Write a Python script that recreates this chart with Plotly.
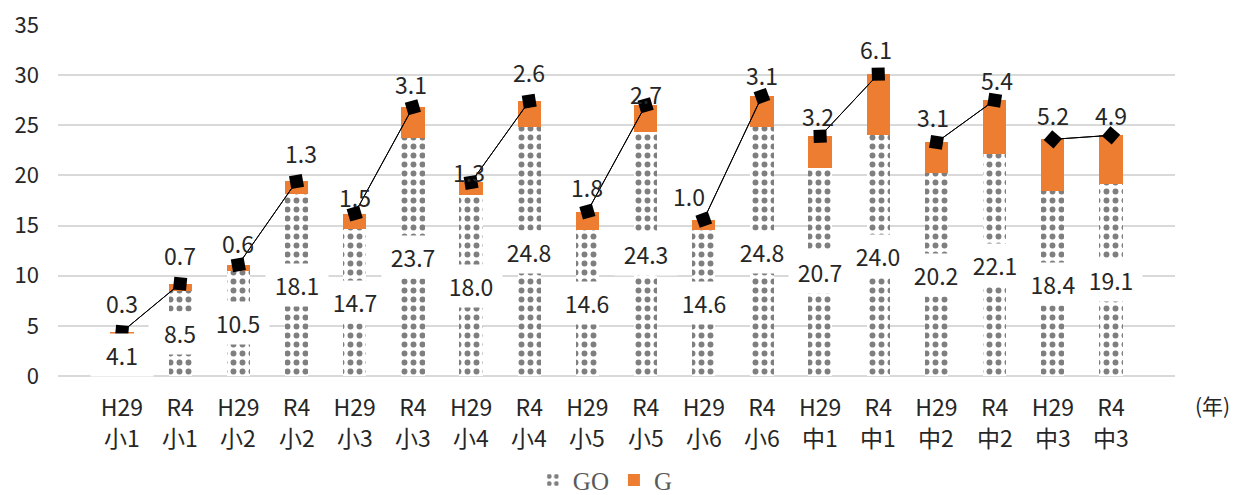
import plotly.graph_objects as go

# 調査年と学年
years = ["H29", "R4"] * 9
grades = ["小1", "小1", "小2", "小2", "小3", "小3", "小4", "小4", "小5",
          "小5", "小6", "小6", "中1", "中1", "中2", "中2", "中3", "中3"]
go_values = [4.1, 8.5, 10.5, 18.1, 14.7, 23.7, 18.0, 24.8, 14.6,
             24.3, 14.6, 24.8, 20.7, 24.0, 20.2, 22.1, 18.4, 19.1]
g_values = [0.3, 0.7, 0.6, 1.3, 1.5, 3.1, 1.3, 2.6, 1.8,
            2.7, 1.0, 3.1, 3.2, 6.1, 3.1, 5.4, 5.2, 4.9]
y_ticks = [0, 5, 10, 15, 20, 25, 30, 35]

categories = [f"{y} {g}" for y, g in zip(years, grades)]
totals = [a + b for a, b in zip(go_values, g_values)]

# G ラベルの持ち上げ量・横ずれ (px)
g_label_lift = [29, 29, 22, 28, 17, 23, 10, 29, 25, 11, 24, 21, 20, 25, 25, 20, 24, 20]
g_label_dx = [0, 0, 0, 4, 0, -2, -2, 0, 0, 0, -15, 0, -2, -2, -3, 2, 0, 0]

ORANGE = "#ED7D31"
TEXT = "#262626"
FONT = "Noto Sans CJK JP"

fig = go.Figure()

fig.add_trace(go.Bar(
    name="GO", x=categories, y=go_values, width=0.4,
    marker=dict(color="white", line=dict(width=0),
                pattern=dict(shape=".", fgcolor="black", bgcolor="white",
                             size=9, solidity=0.34)),
))
fig.add_trace(go.Bar(
    name="G", x=categories, y=g_values, width=0.4,
    marker=dict(color=ORANGE, line=dict(width=0)),
))

# H29 と R4 の合計を結ぶ線（往復させて両端のマーカーを線の向きに回転）
for i in range(0, len(categories), 2):
    xs = [categories[i], categories[i + 1], categories[i]]
    ys = [totals[i], totals[i + 1], totals[i]]
    fig.add_trace(go.Scatter(
        x=xs, y=ys, mode="lines+markers",
        line=dict(color="black", width=1),
        marker=dict(symbol="square", size=13, color="black",
                    angleref="previous", angle=45),
        showlegend=False, hoverinfo="skip",
    ))

annotations = []
for i, cat in enumerate(categories):
    annotations.append(dict(
        x=cat, y=go_values[i] / 2, text=f"{go_values[i]:.1f}", showarrow=False,
        bgcolor="white", width=60, height=40, font=dict(family=FONT, size=23, color=TEXT),
    ))
    annotations.append(dict(
        x=cat, y=totals[i], text=f"{g_values[i]:.1f}", showarrow=False,
        yshift=g_label_lift[i], xshift=g_label_dx[i],
        font=dict(family=FONT, size=23, color=TEXT),
    ))
    # 軸ラベル2行目（学年）
    annotations.append(dict(
        x=cat, y=0, yref="paper", yanchor="middle", yshift=-61, text=grades[i],
        showarrow=False, font=dict(family=FONT, size=23, color=TEXT),
    ))
annotations.append(dict(
    xref="paper", yref="paper", x=1.0, y=-0.083, xanchor="center", yanchor="middle",
    xshift=37, text="(年)", showarrow=False, font=dict(family=FONT, size=21, color=TEXT),
))

fig.update_layout(
    width=1233, height=495, barmode="stack", bargap=0.6,
    margin=dict(l=58, r=58, t=25, b=119, autoexpand=False),
    paper_bgcolor="white", plot_bgcolor="white",
    font=dict(family=FONT, color=TEXT),
    showlegend=True,
    legend=dict(orientation="h", x=0.49, xanchor="center", y=-0.297, yanchor="middle",
                font=dict(family="Liberation Serif", size=25, color="#595959"),
                itemwidth=30, traceorder="normal"),
    annotations=annotations,
    xaxis=dict(type="category", tickvals=categories, ticktext=years,
               tickfont=dict(family=FONT, size=23, color=TEXT),
               showline=False, ticks="", ticklabelstandoff=16, automargin=False),
    yaxis=dict(range=[0, 35], tickvals=y_ticks, showgrid=True, gridcolor="#d9d9d9",
               gridwidth=1.5, zeroline=True, zerolinecolor="#d9d9d9", zerolinewidth=1.5,
               tickfont=dict(family=FONT, size=22, color=TEXT), ticklabelstandoff=18,
               fixedrange=True, automargin=False),
)

fig.write_html("out.html")
